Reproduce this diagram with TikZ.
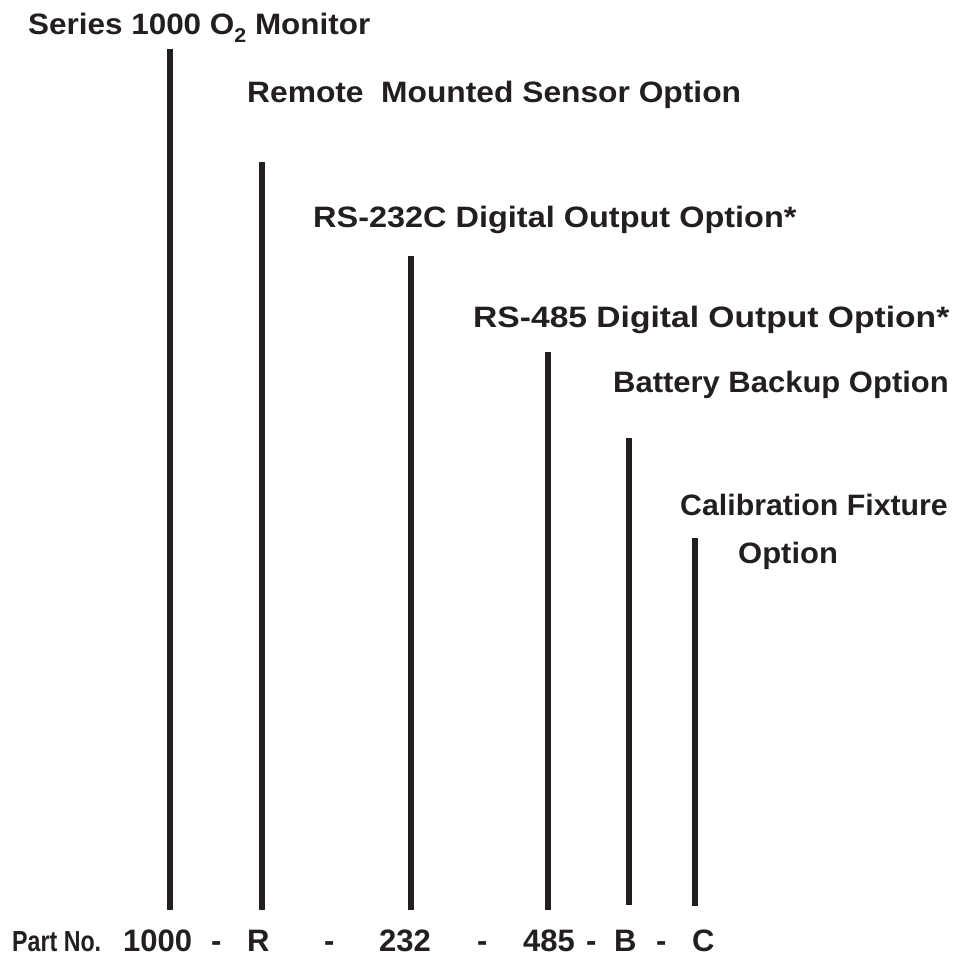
\documentclass[tikz,border=0pt]{standalone}
\usepackage{fontspec}
\usepackage{graphicx}
\setmainfont{Liberation Sans}
\newfontfamily\lblfont[FakeStretch=1.05]{Liberation Sans}
\newfontfamily\narrowfont[FakeStretch=0.8]{Liberation Sans}
\definecolor{ink}{HTML}{231F20}
\begin{document}
\begin{tikzpicture}[x=1pt,y=-1pt,
  lbl/.style={anchor=base west,inner sep=0pt,text=ink,font=\fontsize{29.5}{32}\lblfont\bfseries},
  pn/.style={anchor=base west,inner sep=0pt,text=ink,font=\fontsize{31}{34}\selectfont\bfseries},
  pnsmall/.style={anchor=base west,inner sep=0pt,text=ink,font=\fontsize{29}{32}\narrowfont\bfseries},
  bar/.style={line width=6pt,draw=ink}]
\useasboundingbox (0,0) rectangle (959,957);
% labels
\node[lbl] (l1) at (28,35) {\scalebox{1.015}[1]{Series 1000 O\raisebox{-0.45ex}{\fontsize{20}{22}\selectfont 2} Monitor}};
\node[lbl] (l2) at (247,103) {\scalebox{1.025}[1]{Remote\ \ Mounted Sensor Option}};
\node[lbl] (l3) at (313,228) {\scalebox{1.048}[1]{RS-232C Digital Output Option*}};
\node[lbl] (l4) at (473,328) {\scalebox{1.085}[1]{RS-485 Digital Output Option*}};
\node[lbl] (l5) at (613,393) {Battery Backup Option};
\node[lbl] (l6a) at (680,515) {\scalebox{0.978}[1]{Calibration Fixture}};
\node[lbl] (l6b) at (738,563) {Option};
% bar ends
\coordinate (t1) at (170,49);   \coordinate (b1) at (170,910);
\coordinate (t2) at (262,162);  \coordinate (b2) at (262,910);
\coordinate (t3) at (411,256);  \coordinate (b3) at (411,910);
\coordinate (t4) at (548,352);  \coordinate (b4) at (548,910);
\coordinate (t5) at (629,438);  \coordinate (b5) at (629,905);
\coordinate (t6) at (695,538);  \coordinate (b6) at (695,906);
\foreach \i in {1,...,6} \draw[bar] (t\i) -- (b\i);
% part number
\node[pnsmall] (p0) at (12,951) {Part No.};
\node[pn] (p1) at (123,951) {1000};
\node[pn] (d1) at (211,951) {-};
\node[pn] (p2) at (247,951) {R};
\node[pn] (d2) at (324,951) {-};
\node[pn] (p3) at (379,951) {232};
\node[pn] (d3) at (477,951) {-};
\node[pn] (p4) at (523,951) {485};
\node[pn] (d4) at (586,951) {-};
\node[pn] (p5) at (614,951) {B};
\node[pn] (d5) at (656,951) {-};
\node[pn] (p6) at (692,951) {C};
\end{tikzpicture}
\end{document}
